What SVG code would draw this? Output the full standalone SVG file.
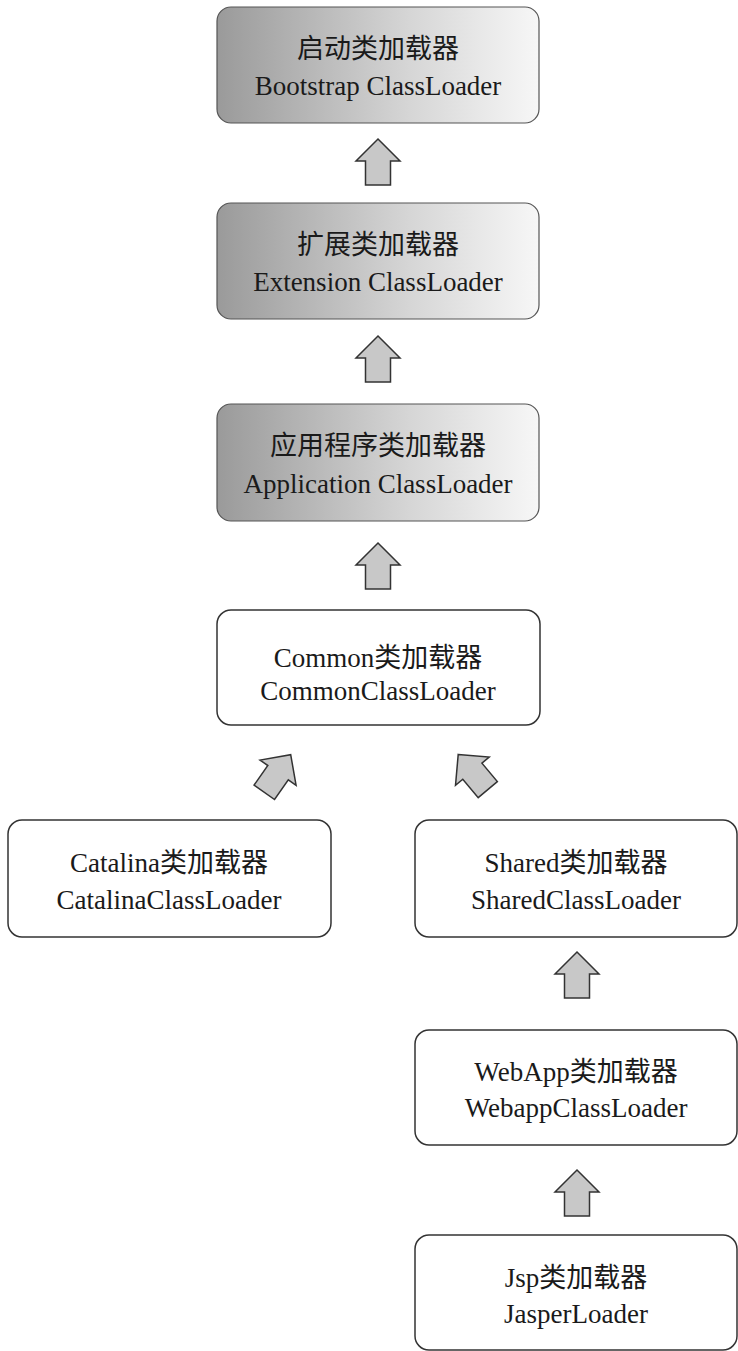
<svg xmlns="http://www.w3.org/2000/svg" width="738" height="1351" viewBox="0 0 738 1351">
<defs>
<linearGradient id="g" x1="0" y1="0" x2="1" y2="0">
<stop offset="0" stop-color="#9a9a9a"/>
<stop offset="0.6" stop-color="#d6d6d6"/>
<stop offset="1" stop-color="#f7f7f7"/>
</linearGradient>
<path id="arr" d="M0,-23 L22,-1 L12.5,-1 L12.5,23 L-12.5,23 L-12.5,-1 L-22,-1 Z"/>
</defs>
<style>
.box{fill:#fff;stroke:#333;stroke-width:1.5}
.gbox{fill:url(#g);stroke:#555;stroke-width:1.2}
.t{font-family:"Liberation Serif","Noto Sans CJK SC",serif;font-size:27px;fill:#1a1a1a;text-anchor:middle}
.a{fill:#c8c8c8;stroke:#333;stroke-width:1.5;stroke-linejoin:miter}
</style>
<g id="connectors">
<use href="#arr" class="a" transform="translate(378,162)"/>
<use href="#arr" class="a" transform="translate(378,359)"/>
<use href="#arr" class="a" transform="translate(378,566)"/>
<use href="#arr" class="a" transform="translate(277.5,773.5) rotate(35)"/>
<use href="#arr" class="a" transform="translate(473,772) rotate(-40)"/>
<use href="#arr" class="a" transform="translate(577,975)"/>
<use href="#arr" class="a" transform="translate(577,1193)"/>
</g>
<g id="bootstrap">
<rect class="gbox" x="217" y="7" width="322" height="116" rx="14"/>
<text class="t" x="378" y="58">启动类加载器</text>
<text class="t" x="378" y="95">Bootstrap ClassLoader</text>
</g>
<g id="extension">
<rect class="gbox" x="217" y="203" width="322" height="116" rx="14"/>
<text class="t" x="378" y="254">扩展类加载器</text>
<text class="t" x="378" y="291">Extension ClassLoader</text>
</g>
<g id="application">
<rect class="gbox" x="217" y="404" width="322" height="117" rx="14"/>
<text class="t" x="378" y="455">应用程序类加载器</text>
<text class="t" x="378" y="493">Application ClassLoader</text>
</g>
<g id="common">
<rect class="box" x="217" y="610" width="323" height="115" rx="14"/>
<text class="t" x="378" y="667">Common类加载器</text>
<text class="t" x="378" y="700">CommonClassLoader</text>
</g>
<g id="catalina">
<rect class="box" x="8" y="820" width="323" height="117" rx="14"/>
<text class="t" x="169" y="872">Catalina类加载器</text>
<text class="t" x="169" y="909">CatalinaClassLoader</text>
</g>
<g id="shared">
<rect class="box" x="415" y="820" width="322" height="117" rx="14"/>
<text class="t" x="576" y="872">Shared类加载器</text>
<text class="t" x="576" y="909">SharedClassLoader</text>
</g>
<g id="webapp">
<rect class="box" x="415" y="1030" width="322" height="115" rx="14"/>
<text class="t" x="576" y="1081">WebApp类加载器</text>
<text class="t" x="576" y="1117">WebappClassLoader</text>
</g>
<g id="jsp">
<rect class="box" x="415" y="1235" width="322" height="115" rx="14"/>
<text class="t" x="576" y="1287">Jsp类加载器</text>
<text class="t" x="576" y="1323">JasperLoader</text>
</g>
</svg>
